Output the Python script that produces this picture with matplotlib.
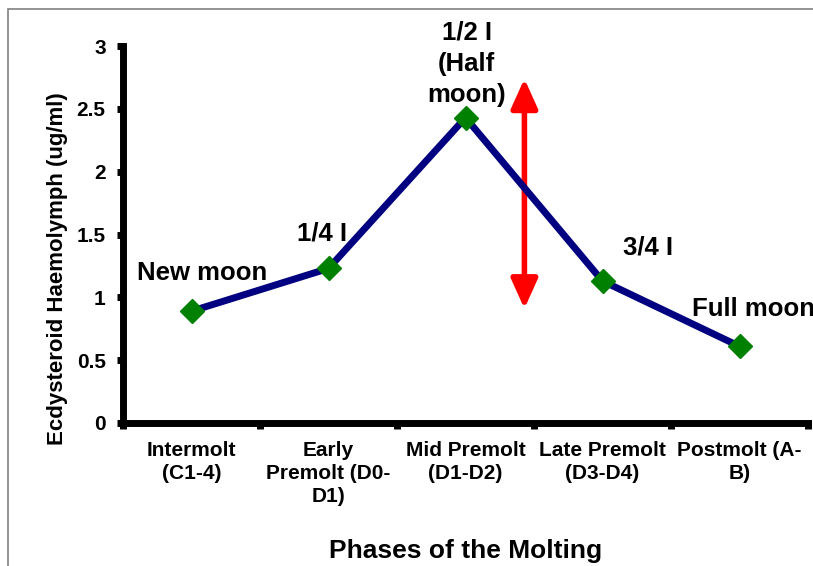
import matplotlib
matplotlib.use("Agg")
import matplotlib.pyplot as plt
from matplotlib.patches import Rectangle, FancyArrowPatch

plt.rcParams['font.family'] = ['Liberation Sans', 'DejaVu Sans']
plt.rcParams['font.weight'] = 'bold'

phases = ["Intermolt\n(C1-4)", "Early\nPremolt (D0-\nD1)", "Mid Premolt\n(D1-D2)",
          "Late Premolt\n(D3-D4)", "Postmolt (A-\nB)"]
ecdysteroid = [0.89, 1.23, 2.43, 1.13, 0.61]
yticks = [0, 0.5, 1, 1.5, 2, 2.5, 3]
ytick_labels = ["0", "0.5", "1", "1.5", "2", "2.5", "3"]

# moon phase labels: (text, x, y, horizontal alignment)
moon_labels = [
    ("New moon", 0.08, 1.19, "center"),
    ("1/4 I", 0.95, 1.51, "center"),
    ("1/2 I\n(Half\nmoon)", 2.01, 2.86, "center"),
    ("3/4 I", 3.33, 1.40, "center"),
    ("Full moon", 3.65, 0.91, "left"),
]
arrow_x = 2.43
arrow_y = (0.91, 2.74)

fig = plt.figure(figsize=(8.13, 5.66), dpi=100)
ax = fig.add_axes([123 / 813, 1 - 423 / 566, 685 / 813, 377 / 566])

x = list(range(len(phases)))
ax.plot(x, ecdysteroid, color="#000080", lw=5, marker="D", ms=12.5,
        mfc="#008000", mec="#008000", zorder=3, clip_on=False)

for txt, tx, ty, ha in moon_labels:
    ax.text(tx, ty, txt, ha=ha, va="center", fontsize=18.5, fontweight="bold",
            linespacing=1.38, clip_on=False)

arr = FancyArrowPatch((arrow_x, arrow_y[0]), (arrow_x, arrow_y[1]),
                      arrowstyle="<|-|>,head_length=1.0,head_width=0.45",
                      mutation_scale=18, color="#FF0000", lw=4, shrinkA=0, shrinkB=0)
ax.add_patch(arr)

ax.set_xlim(-0.5, 4.5)
ax.set_ylim(0, 3)
ax.set_yticks(yticks)
ax.set_yticklabels(ytick_labels)
ax.set_xticks([i - 0.5 for i in range(len(phases) + 1)], minor=False)
ax.set_xticklabels([])
ax.set_xticks(x, minor=True)
ax.set_xticklabels(phases, minor=True, fontsize=15, fontweight="bold", linespacing=1.25)
ax.tick_params(axis="x", which="minor", length=0, pad=13)
ax.tick_params(axis="x", which="major", length=4.5, width=5, direction="out")
ax.tick_params(axis="y", length=4.5, width=5, direction="out", labelsize=15, pad=8)

for s in ["top", "right"]:
    ax.spines[s].set_visible(False)
for s in ["left", "bottom"]:
    ax.spines[s].set_linewidth(5)

ax.set_xlabel("Phases of the Molting", fontsize=19, fontweight="bold", labelpad=24)
ax.set_ylabel("Ecdysteroid Haemolymph (ug/ml)", fontsize=16, fontweight="bold")
ax.yaxis.set_label_coords(-0.080, 0.41)

fig.add_artist(Rectangle((8 / 813, -0.1), 1.0, 1.1 - 9 / 566, transform=fig.transFigure,
                         fill=False, edgecolor="#808080", lw=1.2))

fig.savefig("out.png", dpi=100)
